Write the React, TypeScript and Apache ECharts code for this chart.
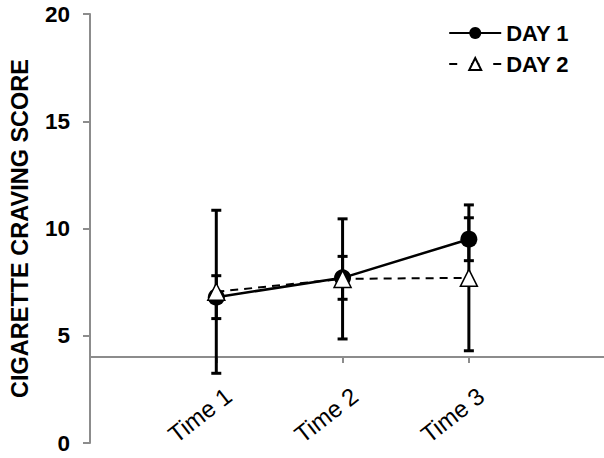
import React, { useEffect, useRef } from "react";
import * as echarts from "echarts";

const categories = ["Time 1", "Time 2", "Time 3"];
const seriesNames = ["DAY 1", "DAY 2"];
const day1 = [6.8, 7.7, 9.5];
const day1Err = [1.0, 1.0, 1.0];
const day2 = [7.05, 7.65, 7.7];
const day2Err = [3.8, 2.8, 3.4];
const yTicks = [0, 5, 10, 15, 20];

const FONT = "'Liberation Sans', Arial, sans-serif";

export default function App() {
  const ref = useRef<HTMLDivElement>(null);
  useEffect(() => {
    if (!ref.current) return;
    const chart = echarts.init(ref.current, null, { renderer: "svg" });
    const xPos = categories.map((_, i) => i + 1);
    const pts = (vals: number[]) => vals.map((v, i) => [xPos[i], v]);
    const errs = (vals: number[], e: number[]) =>
      vals.map((v, i) => [xPos[i], v - e[i], v + e[i]]);

    const errSeries = (name: string, data: number[][]) => ({
      type: "custom",
      name: name + "-err",
      z: 1,
      data,
      encode: { x: 0, y: [1, 2] },
      renderItem: (_p: any, api: any) => {
        const x = api.value(0);
        const lo = api.coord([x, api.value(1)]);
        const hi = api.coord([x, api.value(2)]);
        const w = 5;
        const st = { stroke: "#000", lineWidth: 3 };
        return {
          type: "group",
          children: [
            { type: "line", shape: { x1: lo[0], y1: lo[1], x2: hi[0], y2: hi[1] }, style: st },
            { type: "line", shape: { x1: lo[0] - w, y1: lo[1], x2: lo[0] + w, y2: lo[1] }, style: st },
            { type: "line", shape: { x1: hi[0] - w, y1: hi[1], x2: hi[0] + w, y2: hi[1] }, style: st },
          ],
        };
      },
    });

    const yMin = yTicks[0];
    const yMax = yTicks[yTicks.length - 1];
    const axisGray = "#8c8c8c";

    chart.setOption({
      animation: false,
      backgroundColor: "#fff",
      grid: { left: 88, right: 0, top: 14, bottom: 15, containLabel: false },
      legend: {
        orient: "vertical",
        right: 30,
        top: 17,
        itemWidth: 52,
        itemHeight: 15,
        itemGap: 9,
        textStyle: { fontFamily: FONT, fontWeight: "bold", fontSize: 22, color: "#000" },
        data: [
          { name: seriesNames[0] },
          { name: seriesNames[1], lineStyle: { type: [8, 14] } },
        ],
      },
      xAxis: {
        type: "value",
        min: 0,
        max: 4.07,
        offset: -86,
        splitLine: { show: false },
        axisLine: { onZero: false, lineStyle: { color: axisGray, width: 2 } },
        axisTick: { show: true, length: 6, lineStyle: { color: axisGray, width: 2 }, customValues: xPos },
        axisLabel: {
          customValues: xPos,
          rotate: 38,
          margin: 30,
          verticalAlign: "top",
          padding: [0, -6, 0, 0],
          fontFamily: FONT,
          fontSize: 24,
          color: "#000",
          formatter: (v: number) => categories[Math.round(v) - 1] ?? "",
        },
      },
      yAxis: {
        type: "value",
        min: yMin,
        max: yMax,
        interval: 5,
        name: "CIGARETTE CRAVING SCORE",
        nameLocation: "middle",
        nameGap: 58,
        nameTextStyle: { fontFamily: FONT, fontWeight: "bold", fontSize: 23.5, color: "#000" },
        splitLine: { show: false },
        axisLine: { show: true, lineStyle: { color: axisGray, width: 2 } },
        axisTick: { show: true, length: 7, lineStyle: { color: axisGray, width: 2 } },
        axisLabel: { margin: 20, fontFamily: FONT, fontWeight: "bold", fontSize: 22.5, color: "#000" },
      },
      series: [
        errSeries(seriesNames[1], errs(day2, day2Err)),
        errSeries(seriesNames[0], errs(day1, day1Err)),
        {
          type: "line",
          name: seriesNames[0],
          z: 3,
          data: pts(day1),
          symbol: "circle",
          symbolSize: 17,
          lineStyle: { color: "#000", width: 2.5 },
          itemStyle: { color: "#000" },
        },
        {
          type: "line",
          name: seriesNames[1],
          z: 4,
          data: pts(day2),
          symbol: "triangle",
          symbolSize: 17,
          lineStyle: { color: "#000", width: 2, type: [8, 6] },
          itemStyle: { color: "#fff", borderColor: "#000", borderWidth: 1.5 },
        },
      ],
    });
    return () => chart.dispose();
  }, []);
  return <div ref={ref} style={{ width: 604, height: 458, position: "absolute", left: 0, top: 0 }} />;
}
